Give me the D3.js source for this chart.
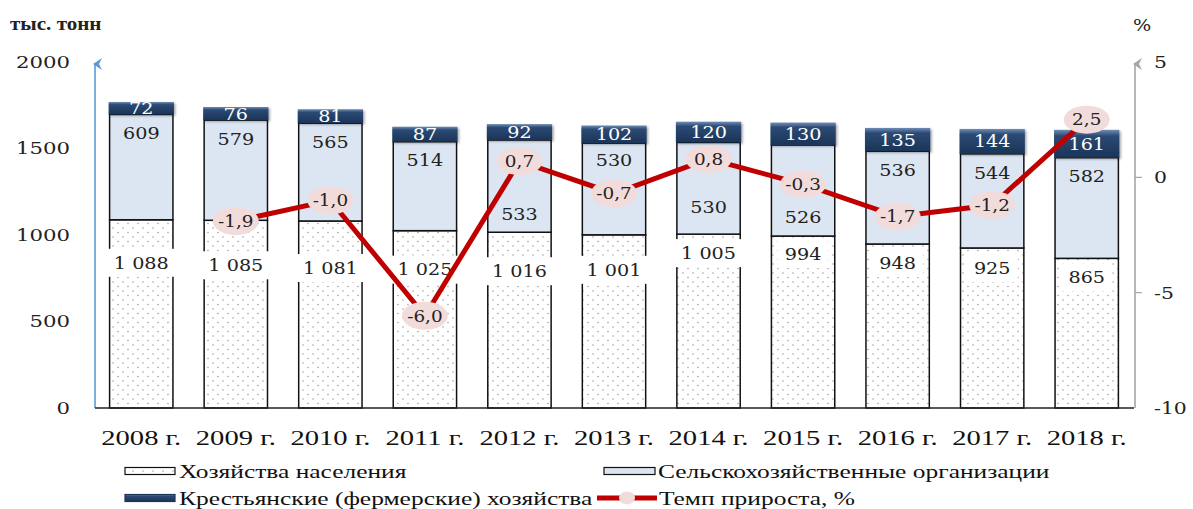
<!DOCTYPE html>
<html>
<head>
<meta charset="utf-8">
<script src="https://cdn.jsdelivr.net/npm/d3@7"></script>
<style>
  body { margin: 0; background: #fff; }
  svg { display: block; }
</style>
</head>
<body>
<div id="chart"></div>
<script>
// Data
const years = ["2008 г.", "2009 г.", "2010 г.", "2011 г.", "2012 г.", "2013 г.", "2014 г.", "2015 г.", "2016 г.", "2017 г.", "2018 г."];
const households = [1088, 1085, 1081, 1025, 1016, 1001, 1005, 994, 948, 925, 865];
const agriOrgs = [609, 579, 565, 514, 533, 530, 530, 526, 536, 544, 582];
const farms = [72, 76, 81, 87, 92, 102, 120, 130, 135, 144, 161];
// growth rate, % (no value for 2008)
const growth = [null, -1.9, -1.0, -6.0, 0.7, -0.7, 0.8, -0.3, -1.7, -1.2, 2.5];
const leftTicks = [0, 500, 1000, 1500, 2000];
const rightTicks = [-10, -5, 0, 5];

// label nudges (px below segment top) so labels dodge the line
const popLabelDy = [43, 45, 47, 39, 39, 35, 19, 18, 19, 20, 19];
const midLabelDy = [19, 19, 19, 18, 74, 17, 65, 72, 19, 19, 19];

const W = 1193, H = 509;
const x0 = 94, x1 = 1134, yTop = 62, yBase = 408;
const SX = 1.2; // the source is stretched sideways, so is the text

const svg = d3.select("#chart").append("svg")
    .attr("width", W)
    .attr("height", H)
    .style("font-family", "'DejaVu Serif', serif");

const defs = svg.append("defs");

// dotted fill for the households segment
const pat = defs.append("pattern")
    .attr("id", "dots")
    .attr("patternUnits", "userSpaceOnUse")
    .attr("width", 10)
    .attr("height", 9);
pat.append("rect").attr("width", 10).attr("height", 9).attr("fill", "#fff");
pat.append("circle").attr("cx", 3).attr("cy", 3).attr("r", 0.65).attr("fill", "#888");
pat.append("circle").attr("cx", 8).attr("cy", 7.5).attr("r", 0.65).attr("fill", "#888");

// bevel look for the farms segment
const grad = defs.append("linearGradient")
    .attr("id", "navy")
    .attr("x1", 0).attr("y1", 0).attr("x2", 0).attr("y2", 1);
grad.append("stop").attr("offset", "0%").attr("stop-color", "#6f8db5");
grad.append("stop").attr("offset", "22%").attr("stop-color", "#2c4a74");
grad.append("stop").attr("offset", "100%").attr("stop-color", "#1a3457");

const shadow = defs.append("filter").attr("id", "shadow")
    .attr("x", "-10%").attr("y", "-30%").attr("width", "130%").attr("height", "170%");
shadow.append("feDropShadow")
    .attr("dx", 1.5).attr("dy", 1.5).attr("stdDeviation", 1.2)
    .attr("flood-color", "#000").attr("flood-opacity", 0.35);

function arrow(id, color) {
    defs.append("marker")
        .attr("id", id)
        .attr("viewBox", "0 0 12 10")
        .attr("refX", 6).attr("refY", 2)
        .attr("markerWidth", 12).attr("markerHeight", 10)
        .attr("markerUnits", "userSpaceOnUse")
        .attr("orient", "auto-start-reverse")
      .append("path")
        .attr("d", "M0,9 L6,0 L12,9 L6,6 Z")
        .attr("fill", color);
}
arrow("arrBlue", "#5b9bd5");
arrow("arrGrey", "#a6a6a6");

// Scales
const x = d3.scaleBand()
    .domain(years)
    .range([x0, x1])
    .paddingInner(0.33)
    .paddingOuter(0.165);

const y = d3.scaleLinear()
    .domain([0, 2000])
    .range([yBase, yTop]);

const yR = d3.scaleLinear()
    .domain([-10, 5])
    .range([yBase, yTop]);

const ru = d3.formatLocale({decimal: ",", thousands: "\u00a0", grouping: [3], currency: ["", ""], minus: "-"});
const fmtInt = ru.format(",d");
const fmtPct = ru.format(".1f");

const rows = years.map((yr, i) => ({
    year: yr,
    pop: households[i],
    org: agriOrgs[i],
    farm: farms[i],
    g: growth[i],
    popDy: popLabelDy[i],
    midDy: midLabelDy[i]
}));

const cx = d => x(d.year) + x.bandwidth() / 2;

// Left axis
svg.append("line")
    .attr("x1", x0 + 1).attr("x2", x0 + 1)
    .attr("y1", yBase).attr("y2", yTop + 2)
    .attr("stroke", "#5b9bd5").attr("stroke-width", 1.6)
    .attr("marker-end", "url(#arrBlue)");

svg.append("g")
    .selectAll("text")
    .data(leftTicks)
    .join("text")
    .attr("transform", d => `translate(70,${y(d)}) scale(1.25,1)`)
    .attr("dy", "0.35em")
    .attr("text-anchor", "end")
    .style("font-size", "17px")
    .style("fill", "#222")
    .text(d => d);

svg.append("text")
    .attr("transform", "translate(10,30) scale(1.17,1)")
    .style("font-family", "'Liberation Serif', serif")
    .style("font-weight", "bold")
    .style("font-size", "18px")
    .style("fill", "#222")
    .text("тыс. тонн");

// Right axis
svg.append("line")
    .attr("x1", x1 + 1).attr("x2", x1 + 1)
    .attr("y1", yBase).attr("y2", yTop + 2)
    .attr("stroke", "#a6a6a6").attr("stroke-width", 1.6)
    .attr("marker-end", "url(#arrGrey)");

const rAxis = svg.append("g");
rAxis.selectAll("line")
    .data(rightTicks.filter(d => d > -10 && d < 5))
    .join("line")
    .attr("x1", x1 + 1).attr("x2", x1 + 8)
    .attr("y1", d => yR(d)).attr("y2", d => yR(d))
    .attr("stroke", "#a6a6a6").attr("stroke-width", 1.2);
rAxis.selectAll("text")
    .data(rightTicks)
    .join("text")
    .attr("transform", d => `translate(1154,${yR(d)}) scale(1.2,1)`)
    .attr("dy", "0.35em")
    .style("font-size", "17px")
    .style("fill", "#222")
    .text(d => d);

svg.append("text")
    .attr("transform", "translate(1133,31) scale(1.2,1)")
    .style("font-size", "16px")
    .style("fill", "#222")
    .text("%");

// Bars
const bars = svg.append("g")
    .selectAll("g")
    .data(rows)
    .join("g");

bars.append("rect")
    .attr("x", d => x(d.year))
    .attr("y", d => y(d.pop))
    .attr("width", x.bandwidth())
    .attr("height", d => y(0) - y(d.pop))
    .attr("fill", "url(#dots)")
    .attr("stroke", "#111")
    .attr("stroke-width", 1.5);

bars.append("rect")
    .attr("x", d => x(d.year))
    .attr("y", d => y(d.pop + d.org))
    .attr("width", x.bandwidth())
    .attr("height", d => y(d.pop) - y(d.pop + d.org))
    .attr("fill", "#dce6f2")
    .attr("stroke", "#111")
    .attr("stroke-width", 1.5);

bars.append("rect")
    .attr("x", d => x(d.year) - 1)
    .attr("y", d => y(d.pop + d.org + d.farm))
    .attr("width", x.bandwidth() + 2)
    .attr("height", d => y(d.pop + d.org) - y(d.pop + d.org + d.farm))
    .attr("fill", "url(#navy)")
    .attr("filter", "url(#shadow)");

// baseline
svg.append("line")
    .attr("x1", x0 + 1).attr("x2", x1)
    .attr("y1", yBase).attr("y2", yBase)
    .attr("stroke", "#222").attr("stroke-width", 1.5);

// Labels of the farms segment
bars.append("text")
    .attr("transform", d => `translate(${cx(d)},${(y(d.pop + d.org) + y(d.pop + d.org + d.farm)) / 2}) scale(${SX},1)`)
    .attr("dy", "0.38em")
    .attr("text-anchor", "middle")
    .style("font-size", "16px")
    .style("fill", "#fff")
    .text(d => d.farm);

// Labels of the agri orgs segment
bars.append("text")
    .attr("transform", d => `translate(${cx(d)},${y(d.pop + d.org) + d.midDy}) scale(${SX},1)`)
    .attr("dy", "0.36em")
    .attr("text-anchor", "middle")
    .style("font-size", "16px")
    .style("fill", "#222")
    .text(d => d.org);

// Labels of the households segment, on white boxes
const popLab = bars.append("g")
    .attr("transform", d => `translate(${cx(d)},${y(d.pop) + d.popDy}) scale(${SX},1)`);
popLab.append("text")
    .attr("dy", "0.36em")
    .attr("text-anchor", "middle")
    .style("font-size", "16px")
    .style("fill", "#222")
    .text(d => fmtInt(d.pop));
popLab.each(function () {
    const g = d3.select(this);
    const bb = g.select("text").node().getBBox();
    g.insert("rect", "text")
        .attr("x", bb.x - 6)
        .attr("y", -14)
        .attr("width", bb.width + 12)
        .attr("height", 28)
        .attr("fill", "#fff");
});

// Growth line
const gRows = rows.filter(d => d.g !== null);
const line = d3.line()
    .x(cx)
    .y(d => yR(d.g));

svg.append("path")
    .datum(gRows)
    .attr("d", line)
    .attr("fill", "none")
    .attr("stroke", "#c00000")
    .attr("stroke-width", 5);

const pts = svg.append("g")
    .selectAll("g")
    .data(gRows)
    .join("g")
    .attr("transform", d => `translate(${cx(d)},${yR(d.g)})`);
pts.append("ellipse")
    .attr("rx", 23)
    .attr("ry", 14)
    .attr("fill", "#f2dcdb");
pts.append("text")
    .attr("transform", "scale(1.15,1)")
    .attr("dy", "0.36em")
    .attr("text-anchor", "middle")
    .style("font-size", "16px")
    .style("fill", "#222")
    .text(d => fmtPct(d.g));

// X labels
svg.append("g")
    .selectAll("text")
    .data(years)
    .join("text")
    .attr("transform", d => `translate(${x(d) + x.bandwidth() / 2},437) scale(1.3,1)`)
    .attr("dy", "0.35em")
    .attr("text-anchor", "middle")
    .style("font-family", "'Liberation Serif', serif")
    .style("font-size", "22px")
    .style("fill", "#111")
    .text(d => d);

// Legend
const leg = svg.append("g")
    .style("font-family", "'Liberation Serif', serif")
    .style("font-size", "19px")
    .style("fill", "#111");

function legendBox(px, py, w, fill, stroke) {
    leg.append("rect")
        .attr("x", px).attr("y", py - 3.5)
        .attr("width", w).attr("height", 7)
        .attr("fill", fill)
        .attr("stroke", stroke)
        .attr("stroke-width", 1.2);
}
function legendText(px, py, txt) {
    leg.append("text")
        .attr("transform", `translate(${px},${py}) scale(1.34,1)`)
        .attr("dy", "0.35em")
        .text(txt);
}

legendBox(125, 471, 50, "url(#dots)", "#111");
legendText(179, 471, "Хозяйства населения");
legendBox(604, 471, 51, "#dce6f2", "#111");
legendText(658, 471, "Сельскохозяйственные организации");
legendBox(125, 498, 50, "url(#navy)", "#1a3457");
legendText(179, 498, "Крестьянские (фермерские) хозяйства");
leg.append("line")
    .attr("x1", 597).attr("x2", 657)
    .attr("y1", 498).attr("y2", 498)
    .attr("stroke", "#c00000").attr("stroke-width", 5);
leg.append("ellipse")
    .attr("cx", 627).attr("cy", 498)
    .attr("rx", 8).attr("ry", 6.5)
    .attr("fill", "#f2dcdb");
legendText(659, 498, "Темп прироста, %");
</script>
</body>
</html>
